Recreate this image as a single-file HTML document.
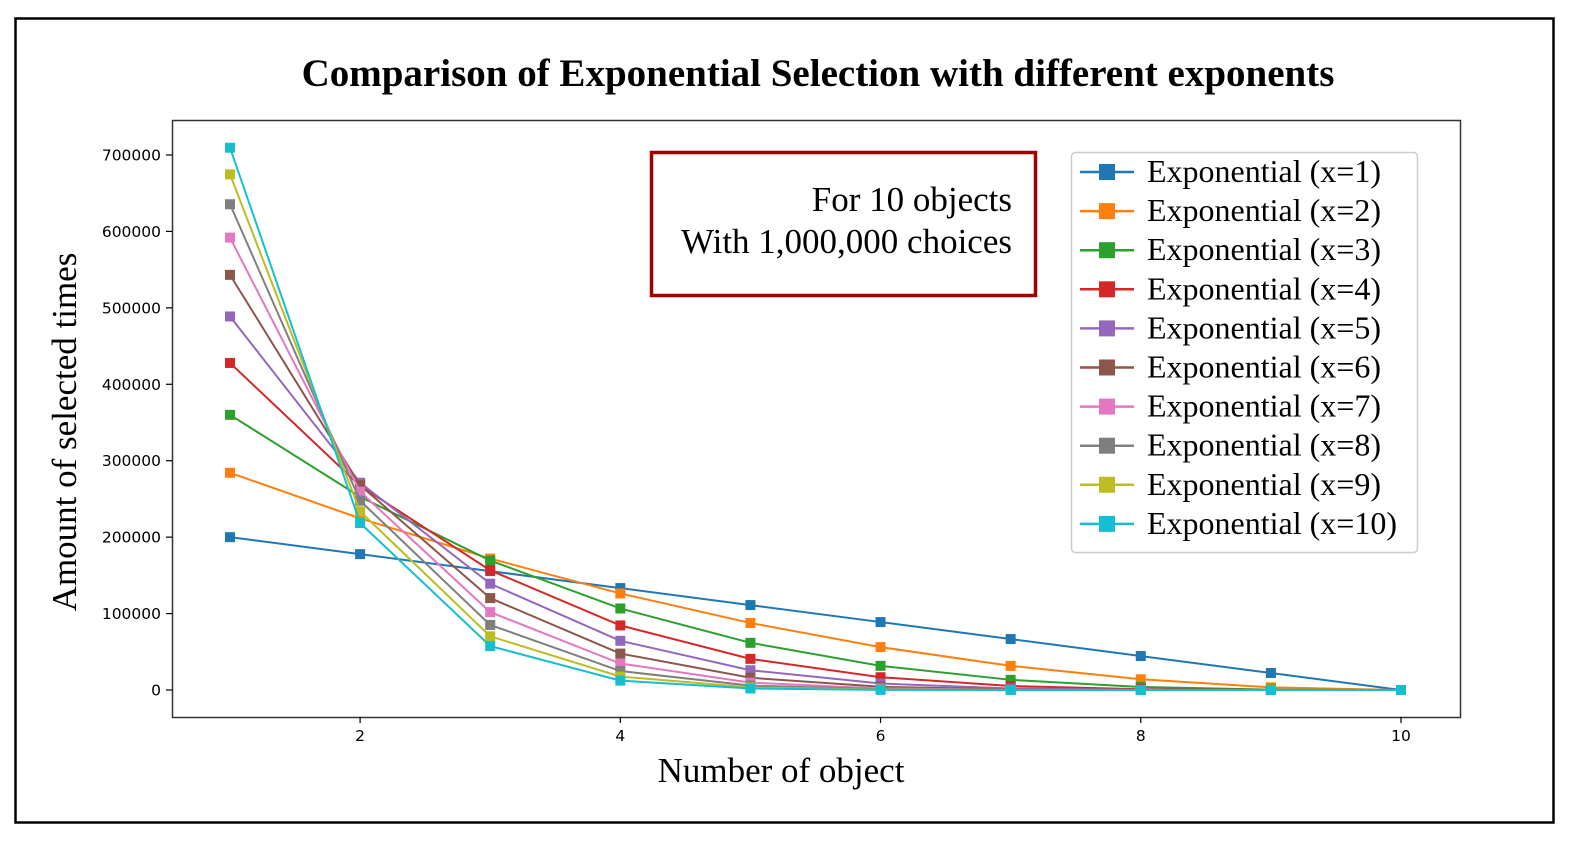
<!DOCTYPE html>
<html><head><meta charset="utf-8"><style>
html,body{margin:0;padding:0;background:#fff;}
svg{display:block;}
</style></head><body>
<svg id="s" width="1590" height="851" xmlns="http://www.w3.org/2000/svg">
<rect x="0" y="0" width="1590" height="851" fill="#fff"/>
<rect x="15.5" y="18.5" width="1538" height="804" fill="none" stroke="#000" stroke-width="2.5"/>
<text x="818" y="86" text-anchor="middle" font-family="Liberation Serif, serif" font-weight="bold" font-size="39">Comparison of Exponential Selection with different exponents</text>
<rect x="172.5" y="120.5" width="1288" height="597" fill="none" stroke="#333" stroke-width="1.5"/>
<g id="ticks" font-family="DejaVu Sans, Liberation Sans, sans-serif" font-size="15.5" fill="#000"></g>
<g id="series"></g>
<text transform="translate(76,432) rotate(-90)" text-anchor="middle" font-family="Liberation Serif, serif" font-size="35">Amount of selected times</text>
<text x="781" y="782" text-anchor="middle" font-family="Liberation Serif, serif" font-size="35">Number of object</text>
<rect x="651.5" y="152.5" width="384" height="143" fill="#fff" stroke="#a00000" stroke-width="3.5"/>
<text x="1012" y="211" text-anchor="end" font-family="Liberation Serif, serif" font-size="35">For 10 objects</text>
<text x="1012" y="253" text-anchor="end" font-family="Liberation Serif, serif" font-size="35">With 1,000,000 choices</text>
<rect x="1071.5" y="152.5" width="346" height="400" rx="4" fill="#fff" stroke="#ccc" stroke-width="1.5"/>
<g id="legend"></g>
</svg>
<script>
var NS="http://www.w3.org/2000/svg";
function el(t,a,p){var e=document.createElementNS(NS,t);for(var k in a)e.setAttribute(k,a[k]);p.appendChild(e);return e;}
var cols=["#1f77b4","#ff7f0e","#2ca02c","#d62728","#9467bd","#8c564b","#e377c2","#7f7f7f","#bcbd22","#17becf"];
function X(i){return 230+(i-1)*130.11;}
function Y(v){return 690-v*76.43/100000;}
var tk=document.getElementById("ticks");
for(var v=0;v<=700000;v+=100000){var y=Y(v);el("line",{x1:166,x2:172,y1:y,y2:y,stroke:"#000","stroke-width":1.2},tk);var t=el("text",{x:161,y:y+5.5,"text-anchor":"end"},tk);t.textContent=v;}
for(var i=2;i<=10;i+=2){var x=X(i);el("line",{x1:x,x2:x,y1:717,y2:723,stroke:"#000","stroke-width":1.2},tk);var t=el("text",{x:x,y:741,"text-anchor":"middle"},tk);t.textContent=i;}
var sg=document.getElementById("series"),lg=document.getElementById("legend");
for(var e=1;e<=10;e++){
 var s=0;for(var k=0;k<10;k++)s+=Math.pow(k,e);
 var pts=[];for(var i=1;i<=10;i++){pts.push([X(i),Y(Math.pow(10-i,e)/s*1e6)]);}
 el("polyline",{points:pts.map(function(p){return p.join(",")}).join(" "),fill:"none",stroke:cols[e-1],"stroke-width":2},sg);
 pts.forEach(function(p){el("rect",{x:p[0]-5,y:p[1]-5,width:10,height:10,fill:cols[e-1]},sg);});
 var ly=172+(e-1)*39.1;
 el("line",{x1:1080,x2:1134,y1:ly,y2:ly,stroke:cols[e-1],"stroke-width":2.5},lg);
 el("rect",{x:1099,y:ly-8,width:16,height:16,fill:cols[e-1]},lg);
 var t=el("text",{x:1147,y:ly+10,"font-family":"Liberation Serif, serif","font-size":32},lg);t.textContent="Exponential (x="+e+")";
}
</script>
</body></html>
